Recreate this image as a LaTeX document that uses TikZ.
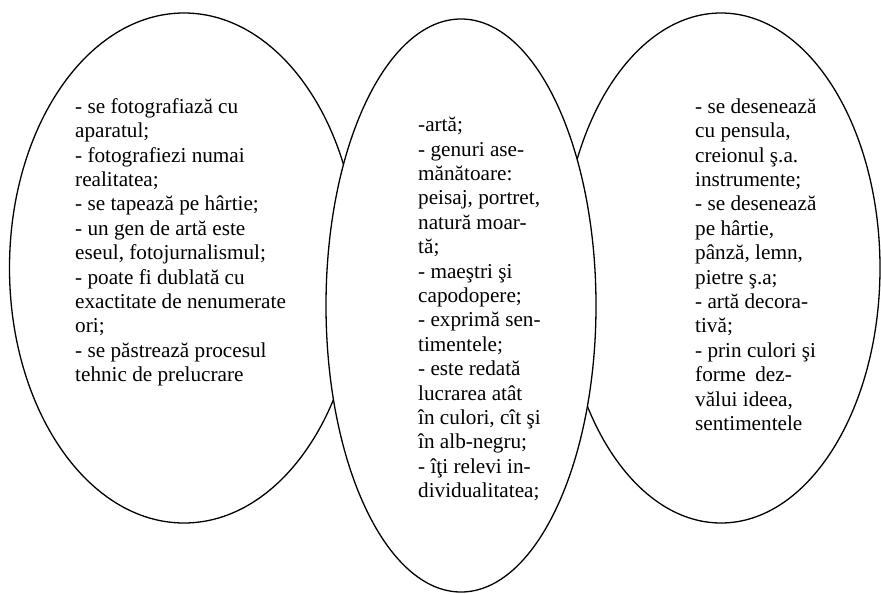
\documentclass[tikz,border=0pt]{standalone}
\usepackage{fontspec}
\setmainfont{Liberation Serif}
\usetikzlibrary{shapes.geometric}
\begin{document}
\begin{tikzpicture}[x=1pt,y=-1pt,
  oval/.style={ellipse,draw=black,line width=1.3pt,inner sep=0pt},
  txt/.style={anchor=north west,inner sep=0pt,align=left,
    font=\fontsize{21.2}{24.4}\selectfont}]
\useasboundingbox (0,0) rectangle (881,594);
\node[oval,minimum width=349pt,minimum height=510pt] (L) at (184,268) {};
\node[oval,minimum width=318pt,minimum height=510pt] (R) at (721,268) {};
\node[oval,fill=white,minimum width=270pt,minimum height=573pt] (M) at (461,305.5) {};
\node[txt] (tl) at (75,96) {\rule{0pt}{17pt}- se fotografiază cu\\
aparatul;\\
- fotografiezi numai\\
realitatea;\\
- se tapează pe hârtie;\\
- un gen de artă este\\
eseul, fotojurnalismul;\\
- poate fi dublată cu\\
exactitate de nenumerate\\
ori;\\
- se păstrează procesul\\
tehnic de prelucrare};
\node[txt] (tm) at (418,114.5) {\rule{0pt}{17pt}-artă;\\
- genuri ase-\\
mănătoare:\\
peisaj, portret,\\
natură moar-\\
tă;\\
- maeştri şi\\
capodopere;\\
- exprimă sen-\\
timentele;\\
- este redată\\
lucrarea atât\\
în culori, cît şi\\
în alb-negru;\\
- îţi relevi in-\\
dividualitatea;};
\node[txt] (tr) at (695,96) {\rule{0pt}{17pt}- se desenează\\
cu pensula,\\
creionul ş.a.\\
instrumente;\\
- se desenează\\
pe hârtie,\\
pânză, lemn,\\
pietre ş.a;\\
- artă decora-\\
tivă;\\
- prin culori şi\\
forme\hspace{0.45em}dez-\\
vălui ideea,\\
sentimentele};
\end{tikzpicture}
\end{document}
